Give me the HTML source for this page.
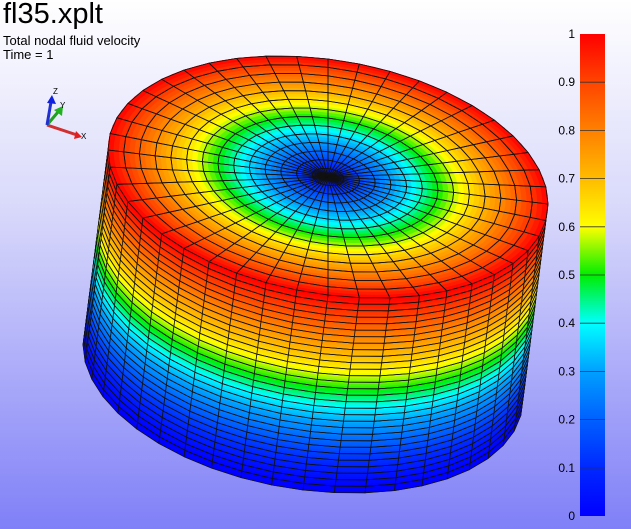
<!DOCTYPE html>
<html><head><meta charset="utf-8"><style>
html,body{margin:0;padding:0;}
body{width:631px;height:529px;overflow:hidden;font-family:"Liberation Sans",sans-serif;}
#wrap{position:relative;width:631px;height:529px;background:linear-gradient(#ffffff 0%,#d8d8fb 40%,#8080f8 100%);}
.t{position:absolute;color:#000;white-space:nowrap;}
</style></head><body>
<div id="wrap">
<div class="t" style="left:3px;top:-2px;font-size:29px;">fl35.xplt</div>
<div class="t" style="left:3px;top:33px;font-size:13px;">Total nodal fluid velocity</div>
<div class="t" style="left:3px;top:47px;font-size:13px;">Time = 1</div>
<svg id="svg" width="631" height="529" style="position:absolute;left:0;top:0">
<defs><linearGradient id="cbg" x1="0" y1="1" x2="0" y2="0"></linearGradient></defs>
<g id="mesh"></g>
<g id="triad">
<line x1="47" y1="125" x2="77" y2="135" stroke="#d03030" stroke-width="3"/><polygon points="82,137 74,139 76,131" fill="#e02020"/>
<line x1="47" y1="125" x2="58" y2="112" stroke="#20a020" stroke-width="3"/><polygon points="63,106 62,116 54,110" fill="#20b020"/>
<line x1="47" y1="125" x2="51" y2="102" stroke="#2030d0" stroke-width="3"/><polygon points="52,95 56,104 47,103" fill="#1020e0"/>
<text x="53" y="94" font-size="8">Z</text>
<text x="60" y="108" font-size="8">Y</text>
<text x="81" y="139" font-size="8">X</text>
</g>
<g id="cbar"></g>
</svg>
</div>
<script>
const tickValues=[0,0.1,0.2,0.3,0.4,0.5,0.6,0.7,0.8,0.9,1];
const tickLabels=["0","0.1","0.2","0.3","0.4","0.5","0.6","0.7","0.8","0.9","1"];
const cmapStops=[0,0.1,0.2,0.3,0.4,0.5,0.6,0.7,0.8,0.9,1];
const cmapColors=["#0000ff","#0028ff","#0060ff","#00a0ff","#00ffff","#00ee00","#ffff00","#ffbb00","#ff8000","#ff4400","#ff0000"];
const topRingValues=[0.08,0.15,0.22,0.29,0.36,0.43,0.5,0.57,0.64,0.71,0.78,0.85,0.92,1.0];
const sideRowValues=[1,0.97,0.93,0.9,0.86,0.83,0.79,0.76,0.72,0.69,0.65,0.61,0.57,0.53,0.49,0.45,0.41,0.37,0.33,0.29,0.26,0.22,0.19,0.15,0.12,0.09,0.06,0.03,0.01,0.0];
const NS=44;
const NS_ = 'http://www.w3.org/2000/svg';
function hex(h){return [parseInt(h.slice(1,3),16),parseInt(h.slice(3,5),16),parseInt(h.slice(5,7),16)];}
function cmap(v){v=Math.max(0,Math.min(1,v));for(let i=1;i<cmapStops.length;i++){if(v<=cmapStops[i]){const t=(v-cmapStops[i-1])/(cmapStops[i]-cmapStops[i-1]);const a=hex(cmapColors[i-1]),b=hex(cmapColors[i]);return 'rgb('+a.map((x,k)=>Math.round(x+(b[k]-x)*t)).join(',')+')';}}return cmapColors[cmapColors.length-1];}
const C=[328,177],U=[220,27],V=[0,118],D=[-25,195];
function P(r,th,h){return [C[0]+r*(U[0]*Math.cos(th)+V[0]*Math.sin(th))+h*D[0],C[1]+r*(U[1]*Math.cos(th)+V[1]*Math.sin(th))+h*D[1]];}
function poly(pts,fill,name,stroke){const p=document.createElementNS(NS_,'polygon');p.setAttribute('points',pts.map(q=>q[0].toFixed(1)+','+q[1].toFixed(1)).join(' '));p.setAttribute('fill',fill);if(stroke){p.setAttribute('stroke',stroke);p.setAttribute('stroke-width','0.8');p.setAttribute('stroke-linejoin','round');}else{p.setAttribute('stroke',fill);p.setAttribute('stroke-width','0.6');}


return p;}
const mesh=document.getElementById('mesh');
function interp(arr,f){const x=f*(arr.length-1);const i=Math.min(arr.length-2,Math.floor(x));return arr[i]+(arr[i+1]-arr[i])*(x-i);}
const nR=sideRowValues.length, SUB=3;
const cols=[];for(let j=0;j<NS;j++)cols.push(j);
cols.sort((a,b)=>Math.sin((a+0.5)*2*Math.PI/NS)-Math.sin((b+0.5)*2*Math.PI/NS));
const sideG=document.createElementNS(NS_,'g');


mesh.appendChild(sideG);
for(const j of cols){const t0=j*2*Math.PI/NS,t1=(j+1)*2*Math.PI/NS;
 for(let i=0;i<nR*SUB;i++){const h0=i/(nR*SUB),h1=(i+1)/(nR*SUB);const v=interp(sideRowValues,(i+0.5)/(nR*SUB));
  sideG.appendChild(poly([P(1,t0,h0),P(1,t1,h0),P(1,t1,h1),P(1,t0,h1)],cmap(v),'side-fill-cell'));}
 for(let i=0;i<nR;i++){const h0=i/nR,h1=(i+1)/nR;sideG.appendChild(poly([P(1,t0,h0),P(1,t1,h0),P(1,t1,h1),P(1,t0,h1)],'none','side-grid-cell','#111'));}
}
const topG=document.createElementNS(NS_,'g');


mesh.appendChild(topG);
const nT=topRingValues.length,TS=3,AS=2;
const vals=[0.02].concat(topRingValues);
for(let i=0;i<nT*TS;i++){const r0=i/(nT*TS),r1=(i+1)/(nT*TS);const v=interp(vals,(i+0.5)/(nT*TS));
 for(let j=0;j<NS*AS;j++){const t0=j*2*Math.PI/(NS*AS),t1=(j+1)*2*Math.PI/(NS*AS);
  topG.appendChild(poly([P(r0,t0,0),P(r0,t1,0),P(r1,t1,0),P(r1,t0,0)],cmap(v),'top-fill-cell'));}}
for(let i=0;i<nT;i++){const r0=i/nT,r1=(i+1)/nT;for(let j=0;j<NS;j++){const t0=j*2*Math.PI/NS,t1=(j+1)*2*Math.PI/NS;
 topG.appendChild(poly([P(r0,t0,0),P(r0,t1,0),P(r1,t1,0),P(r1,t0,0)],'none','top-grid-cell','#111'));}}
const cb=document.getElementById('cbar'),grad=document.getElementById('cbg');
cmapStops.forEach((s,i)=>{const st=document.createElementNS(NS_,'stop');st.setAttribute('offset',s);st.setAttribute('stop-color',cmapColors[i]);grad.appendChild(st);});
const cbX=580,cbW=25,cbTop=34,cbBot=516;
function cy(v){return cbBot-(cbBot-cbTop)*v;}
const rect=document.createElementNS(NS_,'rect');
rect.setAttribute('x',cbX);rect.setAttribute('y',cbTop);rect.setAttribute('width',cbW);rect.setAttribute('height',cbBot-cbTop);rect.setAttribute('fill','url(#cbg)');


cb.appendChild(rect);
tickValues.forEach((v,i)=>{const y=cy(v);
 if(v>0&&v<1){const l=document.createElementNS(NS_,'line');l.setAttribute('x1',cbX);l.setAttribute('x2',cbX+cbW);l.setAttribute('y1',y);l.setAttribute('y2',y);l.setAttribute('stroke','#333');l.setAttribute('stroke-width','0.8');
 
 
 cb.appendChild(l);}
 const t=document.createElementNS(NS_,'text');t.setAttribute('x',cbX-5);t.setAttribute('y',y+4);t.setAttribute('text-anchor','end');t.setAttribute('font-size','12');t.textContent=tickLabels[i];
 
 
 cb.appendChild(t);});
</script>
</body></html>
